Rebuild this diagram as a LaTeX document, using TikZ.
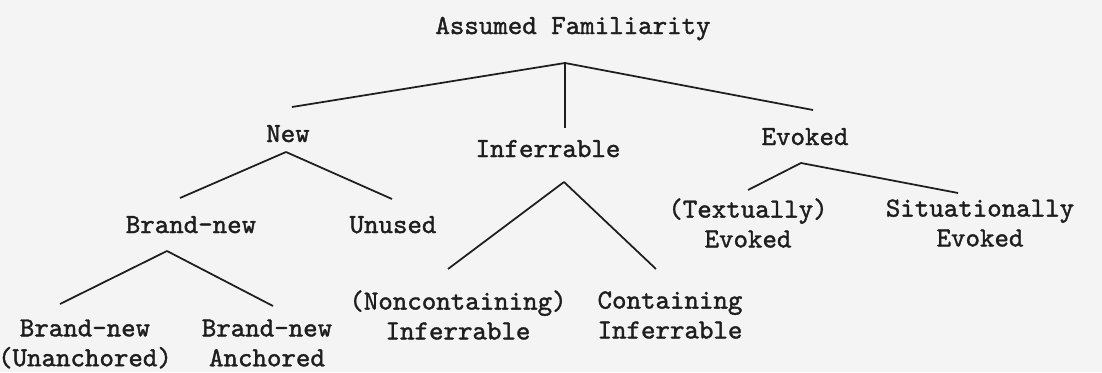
\documentclass[tikz,border=0pt]{standalone}
\usepackage{fontspec}
\usepackage{xcolor}
\usepackage{tikz}
\newfontfamily\treefont{lmmono10-regular.otf}[FakeBold=1.4]
\definecolor{paper}{HTML}{F4F4F4}
\definecolor{ink}{HTML}{1E1E1E}
\tikzset{
  lbl/.style={font=\treefont\fontsize{15.7}{17}\selectfont, align=center,
              inner sep=0pt, text=ink},
  one/.style={lbl, anchor=base},
  branch/.style={draw=ink, line width=1pt},
}

\begin{document}
\begin{tikzpicture}[x=0.02cm, y=-0.02cm]
  \fill[paper] (0,0) rectangle (1102,372);
  \useasboundingbox (0,0) rectangle (1102,372);
  % top level
  \node[one] (fam) at (573,34) {Assumed Familiarity};
  \node[one] (new) at (288,142) {New};
  \node[one] (inf) at (548,157) {Inferrable};
  \node[one] (evo) at (805,145) {Evoked};
  % below New
  \node[one] (bnew) at (191,233) {Brand-new};
  \node[one] (unused) at (393,233) {Unused};
  \node[lbl] (bnu) at (85,344) {Brand-new\\(Unanchored)};
  \node[lbl] (banc) at (267,343) {Brand-new\\Anchored};
  % below Inferrable
  \node[lbl] (noninf) at (458,315) {(Noncontaining)\\Inferrable};
  \node[lbl] (coninf) at (670,315) {Containing\\Inferrable};
  % below Evoked
  \node[lbl] (txtevo) at (748,223) {(Textually)\\Evoked};
  \node[lbl] (sitevo) at (980,223) {Situationally\\Evoked};
  % branch points and line ends
  \coordinate (fam-b) at (565,63);
  \coordinate (new-t) at (292,107);
  \coordinate (inf-t) at (565,128);
  \coordinate (evo-t) at (813,110);
  \coordinate (new-b) at (286,152);
  \coordinate (bnew-t) at (180,198);
  \coordinate (unused-t) at (392,199);
  \coordinate (inf-b) at (564,182);
  \coordinate (noninf-t) at (448,269);
  \coordinate (coninf-t) at (656,269);
  \coordinate (evo-b) at (801,163);
  \coordinate (txtevo-t) at (748,190);
  \coordinate (sitevo-t) at (958,193);
  \coordinate (bnew-b) at (167,251);
  \coordinate (bnu-t) at (60,304);
  \coordinate (banc-t) at (273,306);
  % branches
  \draw[branch] (fam-b) -- (new-t);
  \draw[branch] (fam-b) -- (inf-t);
  \draw[branch] (fam-b) -- (evo-t);
  \draw[branch] (new-b) -- (bnew-t);
  \draw[branch] (new-b) -- (unused-t);
  \draw[branch] (inf-b) -- (noninf-t);
  \draw[branch] (inf-b) -- (coninf-t);
  \draw[branch] (evo-b) -- (txtevo-t);
  \draw[branch] (evo-b) -- (sitevo-t);
  \draw[branch] (bnew-b) -- (bnu-t);
  \draw[branch] (bnew-b) -- (banc-t);
\end{tikzpicture}
\end{document}
